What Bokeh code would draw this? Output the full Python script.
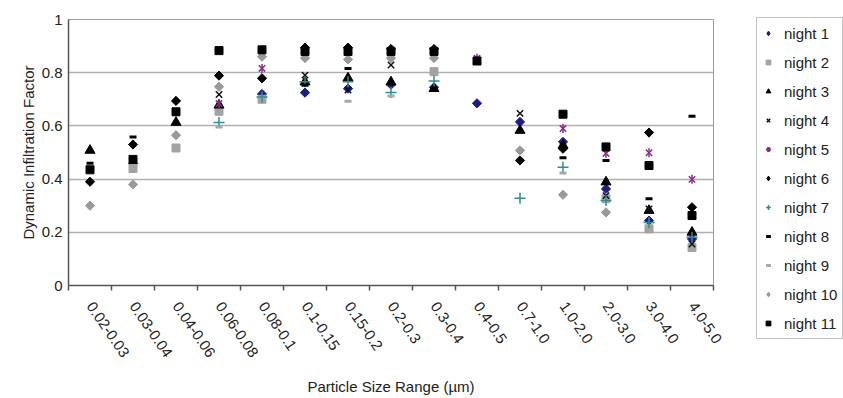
import math
import numpy as np
from bokeh.plotting import figure
from bokeh.models import FixedTicker, Legend, LegendItem, ColumnDataSource, NumeralTickFormatter
from bokeh.embed import file_html
from bokeh.resources import INLINE

nan = float("nan")

categories = ["0.02-0.03", "0.03-0.04", "0.04-0.06", "0.06-0.08", "0.08-0.1",
              "0.1-0.15", "0.15-0.2", "0.2-0.3", "0.3-0.4", "0.4-0.5",
              "0.7-1.0", "1.0-2.0", "2.0-3.0", "3.0-4.0", "4.0-5.0"]

night1 = [nan, 0.458, nan, nan, 0.72, 0.725, 0.74, 0.755, 0.745, 0.685, 0.615, 0.54, 0.363, 0.244, 0.175]
night2 = [nan, 0.44, 0.517, 0.655, 0.70, nan, nan, nan, 0.804, nan, nan, nan, 0.326, 0.213, 0.143]
night3 = [0.508, nan, 0.613, 0.678, nan, 0.765, 0.78, 0.765, 0.74, nan, 0.583, 0.527, 0.389, 0.282, 0.20]
night4 = [nan, nan, nan, 0.718, nan, 0.791, 0.735, 0.829, nan, nan, 0.647, nan, 0.338, 0.288, 0.156]
night5 = [nan, nan, nan, 0.684, 0.816, nan, nan, nan, nan, 0.854, nan, 0.59, 0.497, 0.499, 0.399]
night6 = [0.39, 0.53, 0.694, 0.789, 0.779, 0.894, 0.894, 0.889, 0.889, nan, 0.47, 0.514, nan, 0.575, 0.294]
night7 = [nan, nan, nan, 0.613, 0.709, 0.766, 0.766, 0.726, 0.769, nan, 0.328, 0.445, 0.32, 0.237, 0.181]
night8 = [0.46, 0.558, nan, nan, nan, 0.753, 0.816, nan, nan, nan, nan, 0.48, 0.47, 0.326, 0.636]
night9 = [nan, nan, nan, 0.596, nan, nan, 0.693, 0.712, nan, nan, nan, 0.423, nan, nan, nan]
night10 = [0.30, 0.38, 0.565, 0.747, 0.86, 0.855, 0.85, 0.855, 0.855, nan, 0.508, 0.341, 0.275, nan, nan]
night11 = [0.435, 0.474, 0.653, 0.883, 0.886, 0.88, 0.88, 0.88, 0.88, 0.844, nan, 0.644, 0.521, 0.451, 0.263]

y_ticks = [0, 0.2, 0.4, 0.6, 0.8, 1.0]

FONT = "Liberation Sans"
TXT = "#222222"

p = figure(width=841, height=396, frame_width=645, frame_height=266,
           x_range=(-0.5, len(categories) - 0.5), y_range=(0, 1),
           output_backend="svg", toolbar_location=None,
           min_border_left=68, min_border_right=128, min_border_top=19, min_border_bottom=111)

p.outline_line_color = "#9a9a9a"
p.outline_line_width = 1

# x axis
xs = list(range(len(categories)))
p.xaxis.ticker = FixedTicker(ticks=xs, minor_ticks=[i - 0.5 for i in range(len(categories) + 1)])
p.xaxis.major_label_overrides = {i: c for i, c in enumerate(categories)}
p.xaxis.major_label_orientation = -0.97
p.xaxis.major_tick_out = 0
p.xaxis.major_tick_in = 0
p.xaxis.minor_tick_out = 5
p.xaxis.minor_tick_in = 0
p.xaxis.minor_tick_line_color = "#555555"
p.xaxis.minor_tick_line_width = 1.5
p.xaxis.major_label_standoff = 13
p.xaxis.axis_label = "Particle Size Range (\u00b5m)"
p.xaxis.axis_label_standoff = 14

# y axis
p.yaxis.ticker = FixedTicker(ticks=y_ticks)
p.yaxis.formatter = NumeralTickFormatter(format="0.[0]")
p.yaxis.major_tick_out = 0
p.yaxis.major_tick_in = 0
p.yaxis.minor_tick_line_color = None
p.yaxis.major_label_standoff = 6
p.yaxis.axis_label = "Dynamic Infiltration Factor"
p.yaxis.axis_label_standoff = 2

for ax in (p.xaxis, p.yaxis):
    ax.axis_line_color = "#555555"
    ax.axis_line_width = 1.5
    ax.major_label_text_font = FONT
    ax.major_label_text_font_size = "15px"
    ax.major_label_text_color = TXT
    ax.axis_label_text_font = FONT
    ax.axis_label_text_font_size = "15px"
    ax.axis_label_text_font_style = "normal"
    ax.axis_label_text_color = TXT

p.xgrid.grid_line_color = None
p.ygrid.ticker = FixedTicker(ticks=y_ticks)
p.ygrid.grid_line_color = "#b0b0b0"
p.ygrid.grid_line_width = 1.5

DIAMOND = math.pi / 4
NAVY = "#1c1c8a"
GRAY_SQ = "#a3a3a3"
GRAY_DM = "#999999"
GRAY_DASH = "#a8a8a8"
PURPLE = "#8a2a8a"
TEAL = "#2a9090"

styles = [
    ("night 1", night1, [dict(marker="square", size=6.5, angle=DIAMOND, fill_color=NAVY, line_color=NAVY)],
     [dict(marker="diamond", size=11, fill_color=NAVY, line_color=NAVY)]),
    ("night 2", night2, [dict(marker="square", size=8, fill_color=GRAY_SQ, line_color=GRAY_SQ)], None),
    ("night 3", night3, [dict(marker="triangle", size=10, fill_color="#000000", line_color="#000000")], None),
    ("night 4", night4, [dict(marker="x", size=9, line_color="#111111", line_width=1.5)], None),
    ("night 5", night5, [dict(marker="x", size=9, line_color=PURPLE, line_width=1.5),
                         dict(marker="dash", size=9, angle=math.pi / 2, line_color=PURPLE, line_width=1.5)],
     [dict(marker="asterisk", size=9, line_color=PURPLE, line_width=1.5)]),
    ("night 6", night6, [dict(marker="square", size=6.5, angle=DIAMOND, fill_color="#000000", line_color="#000000")],
     [dict(marker="diamond", size=11, fill_color="#000000", line_color="#000000")]),
    ("night 7", night7, [dict(marker="cross", size=11, line_color=TEAL, line_width=1.5)], None),
    ("night 8", night8, [dict(marker="dash", size=7, line_color="#000000", line_width=3)], None),
    ("night 9", night9, [dict(marker="dash", size=7, line_color=GRAY_DASH, line_width=3)], None),
    ("night 10", night10, [dict(marker="square", size=6.5, angle=DIAMOND, fill_color=GRAY_DM, line_color=GRAY_DM)],
     [dict(marker="diamond", size=11, fill_color=GRAY_DM, line_color=GRAY_DM)]),
    ("night 11", night11, [dict(marker="square", size=8, fill_color="#000000", line_color="#000000")], None),
]

items = []
for name, ys, parts, legend_parts in styles:
    src = ColumnDataSource(dict(x=np.array(xs, dtype=float), y=np.array(ys, dtype=float)))
    rs = [p.scatter("x", "y", source=src, **st) for st in parts]
    if legend_parts is not None:
        dummy = ColumnDataSource(dict(x=np.array([nan]), y=np.array([nan])))
        rs = [p.scatter("x", "y", source=dummy, **st) for st in legend_parts]
    items.append(LegendItem(label=name, renderers=rs))

legend = Legend(items=items, location=(43, -54), ncols=1)
legend.label_text_font = FONT
legend.label_text_font_size = "15px"
legend.label_text_color = TXT
legend.glyph_width = 12
legend.glyph_height = 20
legend.label_height = 20
legend.label_standoff = 10
legend.spacing = 9
legend.padding = 5
legend.margin = 0
legend.border_line_color = "#8a8a8a"
legend.border_line_width = 1
legend.background_fill_color = "white"
p.add_layout(legend, "right")

open("out.html", "w").write(file_html(p, INLINE))
